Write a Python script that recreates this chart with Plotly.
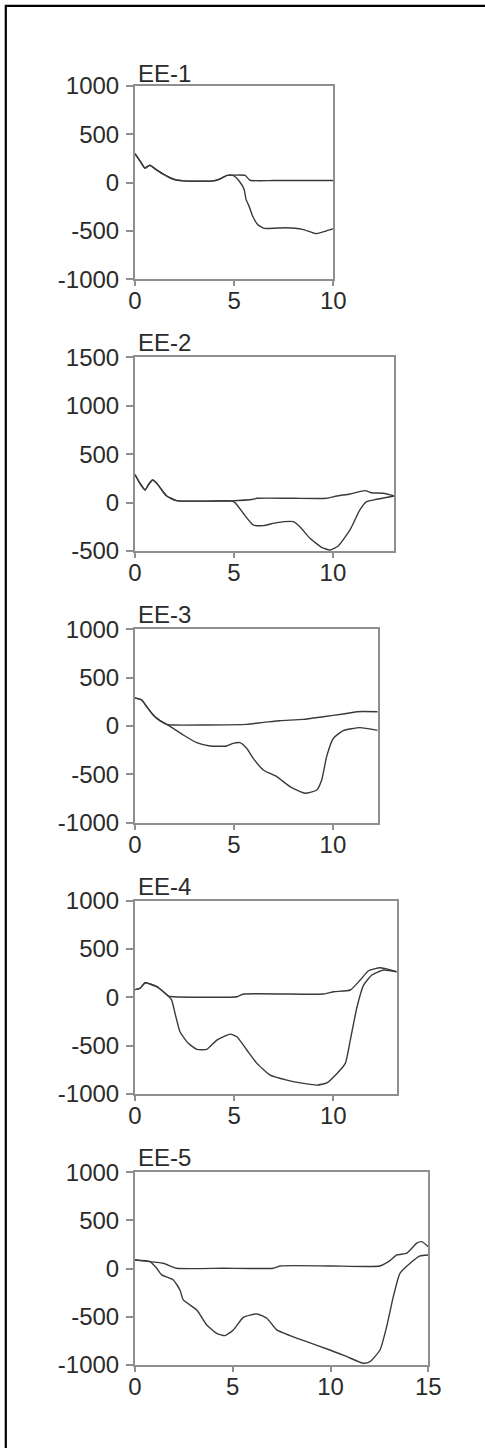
import plotly.graph_objects as go

# ---------------- data ----------------
panel_titles = ["EE-1", "EE-2", "EE-3", "EE-4", "EE-5"]

# EE-1
ee1_a_x = [0, 0.25, 0.5, 0.75, 1.0, 1.45, 1.95, 2.45, 3.0, 3.5, 3.95, 4.3, 4.65, 5.0, 5.55, 5.8, 7.0, 8.5, 10.0]
ee1_a_y = [300, 225, 150, 180, 145, 85, 35, 18, 15, 15, 18, 40, 75, 78, 75, 25, 22, 22, 22]
ee1_b_x = [0, 0.25, 0.5, 0.75, 1.0, 1.45, 1.95, 2.45, 3.0, 3.5, 3.95, 4.3, 4.65, 4.95, 5.25, 5.5, 5.6, 5.76, 5.93, 6.18, 6.52, 7.6, 8.45, 9.13, 9.63, 10.0]
ee1_b_y = [300, 225, 150, 180, 145, 85, 35, 18, 15, 15, 18, 40, 75, 75, 17, -69, -173, -248, -345, -432, -473, -466, -483, -528, -501, -476]

# EE-2
ee2_a_x = [0, 0.25, 0.51, 0.67, 0.89, 1.1, 1.35, 1.6, 2.1, 3.5, 4.8, 5.97, 6.15, 8.0, 9.68, 10.19, 10.86, 11.62, 11.95, 12.54, 13.1]
ee2_a_y = [290, 199, 130, 182, 233, 199, 130, 68, 20, 15, 17, 34, 44, 44, 44, 68, 89, 123, 102, 96, 68]
ee2_b_x = [0, 0.25, 0.51, 0.67, 0.89, 1.1, 1.35, 1.6, 2.1, 3.5, 4.8, 5.05, 5.47, 5.97, 6.48, 7.16, 8.0, 8.33, 8.84, 9.43, 9.85, 10.27, 10.86, 11.36, 11.7, 12.2, 13.1]
ee2_b_y = [290, 199, 130, 182, 233, 199, 130, 68, 20, 15, 17, 0, -110, -231, -238, -207, -197, -249, -369, -462, -490, -448, -283, -76, 9, 34, 68]

# EE-3
ee3_a_x = [0, 0.34, 0.59, 0.92, 1.26, 1.6, 1.93, 3.5, 5.64, 6.48, 7.32, 8.5, 9.51, 10.52, 11.2, 12.26]
ee3_a_y = [290, 269, 200, 114, 55, 17, 10, 10, 17, 38, 55, 69, 96, 124, 148, 148]
ee3_b_x = [0, 0.34, 0.59, 0.92, 1.26, 1.6, 1.93, 2.44, 3.12, 3.79, 4.63, 4.96, 5.3, 5.64, 5.97, 6.48, 7.16, 7.83, 8.59, 9.18, 9.43, 9.68, 10.02, 10.52, 11.36, 12.26]
ee3_b_y = [290, 269, 200, 114, 55, 17, -24, -93, -172, -207, -207, -179, -172, -231, -334, -455, -524, -627, -696, -662, -558, -317, -127, -48, -17, -45]

# EE-4
ee4_a_x = [0, 0.25, 0.51, 0.76, 1.1, 1.43, 1.68, 1.93, 5.14, 5.47, 9.51, 10.02, 10.86, 11.36, 11.78, 12.37, 12.79, 13.2]
ee4_a_y = [80, 93, 151, 138, 110, 58, 13, 6, 6, 34, 34, 58, 76, 179, 275, 306, 290, 265]
ee4_b_x = [0, 0.25, 0.51, 0.76, 1.1, 1.43, 1.68, 1.85, 2.02, 2.27, 2.69, 3.12, 3.62, 4.13, 4.8, 5.14, 5.64, 6.15, 6.82, 7.66, 8.5, 9.18, 9.68, 10.19, 10.61, 10.86, 11.2, 11.53, 11.95, 12.54, 13.2]
ee4_b_y = [80, 93, 151, 138, 110, 58, 13, -28, -166, -356, -476, -538, -538, -442, -380, -408, -545, -683, -804, -856, -890, -908, -884, -787, -683, -442, -97, 127, 231, 283, 265]

# EE-5
ee5_a_x = [0, 0.77, 1.45, 2.13, 4.5, 7.07, 7.42, 10.0, 12.53, 13.04, 13.39, 13.9, 14.41, 14.66, 15.0]
ee5_a_y = [90, 73, 56, 4, 4, 4, 28, 28, 28, 83, 142, 160, 264, 280, 228]
ee5_b_x = [0, 0.77, 1.11, 1.37, 1.96, 2.3, 2.47, 3.16, 3.67, 4.18, 4.6, 5.03, 5.54, 6.23, 6.74, 7.25, 7.93, 8.78, 9.97, 10.83, 11.68, 12.02, 12.53, 12.87, 13.21, 13.55, 14.07, 14.58, 15.0]
ee5_b_y = [90, 73, 4, -65, -117, -221, -325, -429, -584, -671, -695, -636, -505, -470, -515, -636, -695, -758, -844, -913, -982, -965, -844, -602, -291, -48, 56, 132, 142]

x_ranges = [[0, 10], [0, 13.1], [0, 12.26], [0, 13.2], [0, 15]]
y_ranges = [[-1000, 1000], [-500, 1500], [-1000, 1000], [-1000, 1000], [-1000, 1000]]
x_tick_vals = [[0, 5, 10], [0, 5, 10], [0, 5, 10], [0, 5, 10], [0, 5, 10, 15]]
x_tick_text = [["0", "5", "10"], ["0", "5", "10"], ["0", "5", "10"], ["0", "5", "10"], ["0", "5", "10", "15"]]
y_tick_vals = [[-1000, -500, 0, 500, 1000], [-500, 0, 500, 1000, 1500],
               [-1000, -500, 0, 500, 1000], [-1000, -500, 0, 500, 1000], [-1000, -500, 0, 500, 1000]]
y_tick_text = [["-1000", "-500", "0", "500", "1000"], ["-500", "0", "500", "1000", "1500"],
               ["-1000", "-500", "0", "500", "1000"], ["-1000", "-500", "0", "500", "1000"],
               ["-1000", "-500", "0", "500", "1000"]]

series = [
    (ee1_a_x, ee1_a_y, ee1_b_x, ee1_b_y),
    (ee2_a_x, ee2_a_y, ee2_b_x, ee2_b_y),
    (ee3_a_x, ee3_a_y, ee3_b_x, ee3_b_y),
    (ee4_a_x, ee4_a_y, ee4_b_x, ee4_b_y),
    (ee5_a_x, ee5_a_y, ee5_b_x, ee5_b_y),
]

# ---------------- layout (pixel geometry) ----------------
W, H = 485, 1448
boxes = [
    (135, 333.3, 86, 279.3),
    (135, 394.3, 357.3, 551),
    (135, 377.7, 629.3, 822.7),
    (135, 396.7, 900.7, 1094),
    (135, 428.3, 1172.3, 1365),
]
title_y = [73.5, 342.7, 614, 886, 1157]

FONT = "Liberation Sans, Arial, Helvetica, sans-serif"
FS = 24
TXT = "#2b2b2b"
AXC = "#8f8f8f"
LINEC = "#3a3a3a"

fig = go.Figure()
layout = dict(
    width=W, height=H, autosize=False,
    margin=dict(l=0, r=0, t=0, b=0, pad=0),
    paper_bgcolor="white", plot_bgcolor="white",
    showlegend=False,
    font=dict(family=FONT, size=FS, color=TXT),
    annotations=[], shapes=[],
)

for i, (ax_, ay_, bx_, by_) in enumerate(series):
    n = i + 1
    xa = "x" if n == 1 else f"x{n}"
    ya = "y" if n == 1 else f"y{n}"
    for xs, ys in ((bx_, by_), (ax_, ay_)):
        fig.add_trace(go.Scatter(
            x=xs, y=ys, mode="lines", xaxis=xa, yaxis=ya,
            line=dict(color=LINEC, width=1.4, shape="spline", smoothing=0.5),
            hoverinfo="skip",
        ))
    l, r, t, b = boxes[i]
    common = dict(showgrid=False, zeroline=False, showline=True, mirror=True,
                  linecolor=AXC, linewidth=2, ticks="outside", tickcolor=AXC,
                  tickwidth=1.5, tickfont=dict(family=FONT, size=FS, color=TXT),
                  fixedrange=True, automargin=False)
    layout["xaxis" if n == 1 else f"xaxis{n}"] = dict(
        domain=[l / W, r / W], range=x_ranges[i], anchor=ya,
        tickmode="array", tickvals=x_tick_vals[i], ticktext=x_tick_text[i],
        ticklen=5, ticklabelstandoff=-6, **common)
    layout["yaxis" if n == 1 else f"yaxis{n}"] = dict(
        domain=[1 - b / H, 1 - t / H], range=y_ranges[i], anchor=xa,
        tickmode="array", tickvals=y_tick_vals[i], ticktext=y_tick_text[i],
        ticklen=7, ticklabelstandoff=2, **common)
    layout["annotations"].append(dict(
        text=panel_titles[i], xref="paper", yref="paper",
        x=136 / W, y=1 - title_y[i] / H, xanchor="left", yanchor="middle",
        showarrow=False, font=dict(family=FONT, size=FS, color=TXT)))

# outer frame (top and left edges visible)
layout["shapes"].append(dict(type="line", xref="paper", yref="paper",
                             x0=5 / W, x1=1.0, y0=1 - 5.8 / H, y1=1 - 5.8 / H,
                             line=dict(color="black", width=2.2)))
layout["shapes"].append(dict(type="line", xref="paper", yref="paper",
                             x0=5.8 / W, x1=5.8 / W, y0=0, y1=1 - 5 / H,
                             line=dict(color="black", width=2.2)))

fig.update_layout(**layout)
fig.write_html("out.html", config={"displayModeBar": False},
               post_script="document.body.style.margin='0';document.body.style.overflow='hidden';")
